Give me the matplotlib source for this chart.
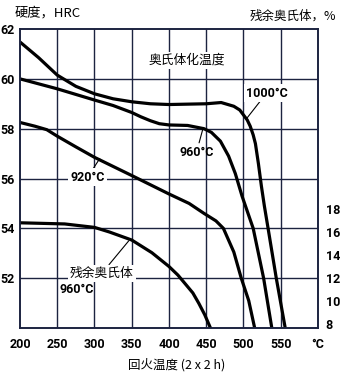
import matplotlib
matplotlib.use("Agg")
import matplotlib.pyplot as plt

# tempering temperature (°C) vs hardness (HRC) for three austenitizing temperatures
t_1000 = [200, 225, 250, 275, 300, 325, 350, 375, 400, 450, 470, 487, 495, 500, 505, 509, 513, 516, 520, 524, 528, 533, 544, 556]
hrc_1000 = [61.48, 60.85, 60.15, 59.7, 59.4, 59.2, 59.08, 59.0, 58.97, 59.0, 59.05, 58.9, 58.75, 58.55, 58.35, 58.1, 57.75, 57.4, 56.6, 55.7, 54.9, 54.0, 52.0, 50.0]

t_960 = [200, 250, 300, 325, 350, 362, 375, 387, 400, 425, 447, 457, 469, 480, 489, 498, 513, 527, 538]
hrc_960 = [60.0, 59.6, 59.15, 58.93, 58.65, 58.48, 58.32, 58.2, 58.15, 58.13, 58.0, 57.85, 57.5, 56.9, 56.2, 55.3, 54.0, 52.0, 50.0]

t_920 = [200, 220, 236, 250, 275, 300, 350, 400, 427, 447, 463, 473, 487, 497, 507, 515]
hrc_920 = [58.25, 58.1, 57.96, 57.7, 57.27, 56.85, 56.12, 55.38, 55.0, 54.6, 54.3, 54.0, 53.05, 52.0, 51.1, 50.0]

# retained austenite (%) after 960°C
ra_temp = [200, 260, 300, 320, 350, 377, 400, 412, 423, 432, 440, 448, 456]
ra_pct = [16.8, 16.7, 16.4, 16.0, 15.3, 14.2, 13.0, 12.25, 11.4, 10.7, 9.8, 8.8, 7.6]

x_ticks = [200, 250, 300, 350, 400, 450, 500, 550, 600]
x_labels = ["200", "250", "300", "350", "400", "450", "500", "550", "°C"]
hrc_ticks = [52, 54, 56, 58, 60, 62]
ra_ticks = [8, 10, 12, 14, 16, 18]

cjk = ["Noto Sans CJK SC", "DejaVu Sans"]
num_font = dict(family=["Roboto", "DejaVu Sans"], weight="bold", size=9)
navy = "#1c2340"

fig = plt.figure(figsize=(3.4, 3.75), dpi=100)
ax = fig.add_axes([0.0588, 0.1253, 0.8765, 0.7973])
ax.set_xlim(200, 600)
ax.set_ylim(50, 62)

line_kw = dict(color="black", lw=2.3, solid_joinstyle="round", solid_capstyle="butt", clip_on=True)
ax.plot(t_1000, hrc_1000, **line_kw)
ax.plot(t_960, hrc_960, **line_kw)
ax.plot(t_920, hrc_920, **line_kw)

ax2 = ax.twinx()
ax2.set_ylim(7.65, 33.65)
ax2.plot(ra_temp, ra_pct, **line_kw)

for a in (ax, ax2):
    for s in a.spines.values():
        s.set_color(navy)
        s.set_linewidth(1.2)
    a.tick_params(length=0)

ax.set_xticks(x_ticks)
ax.set_xticklabels(x_labels, fontdict=num_font)
ax.set_yticks(hrc_ticks)
ax.set_yticklabels([str(v) for v in hrc_ticks], fontdict=num_font)
ax.tick_params(axis="x", pad=7)
ax.tick_params(axis="y", pad=4)
ax2.set_yticks(ra_ticks)
ax2.set_yticklabels([str(v) for v in ra_ticks], fontdict=num_font)
ax2.tick_params(axis="y", pad=5.5)

for xv in x_ticks[1:-1]:
    ax.axvline(xv, color=navy, lw=1.0, zorder=0)
for yv in hrc_ticks[:-1]:
    ax.axhline(yv, color=navy, lw=1.0, zorder=0)

box = dict(facecolor="white", edgecolor="none", pad=1.5)
ax.text(424, 60.75, "奥氏体化温度", family=cjk, fontsize=9.2, ha="center", va="center", bbox=box, zorder=3)

arrow = dict(arrowstyle="-", color="black", lw=0.8, shrinkA=0, shrinkB=0)
ax.annotate("1000°C", xy=(504, 58.4), xytext=(531, 59.43), ha="center", va="center",
            bbox=box, arrowprops=arrow, zorder=3, **num_font)
ax.annotate("960°C", xy=(446, 58.05), xytext=(437, 57.06), ha="center", va="center",
            arrowprops=arrow, zorder=3, **num_font)
ax.annotate("920°C", xy=(307, 56.8), xytext=(291, 56.06), ha="center", va="center",
            bbox=box, arrowprops=arrow, zorder=3, **num_font)
ax.annotate("残余奥氏体", xy=(346, 53.5), xytext=(310, 52.2), ha="center", va="center",
            family=cjk, fontsize=9.2, bbox=box, arrowprops=arrow, zorder=3)
ax.text(276, 51.56, "960°C", ha="center", va="center", zorder=3, **num_font)

fig.text(15 / 340, 1 - 13 / 375, "硬度，HRC", family=cjk, fontsize=9.5, ha="left", va="center")
fig.text(336 / 340, 1 - 16 / 375, "残余奥氏体，%", family=cjk, fontsize=9, ha="right", va="center")
fig.text(177 / 340, 1 - 365 / 375, "回火温度 (2 x 2 h)", family=cjk, fontsize=9, ha="center", va="center")

fig.savefig("out.png", dpi=100)
